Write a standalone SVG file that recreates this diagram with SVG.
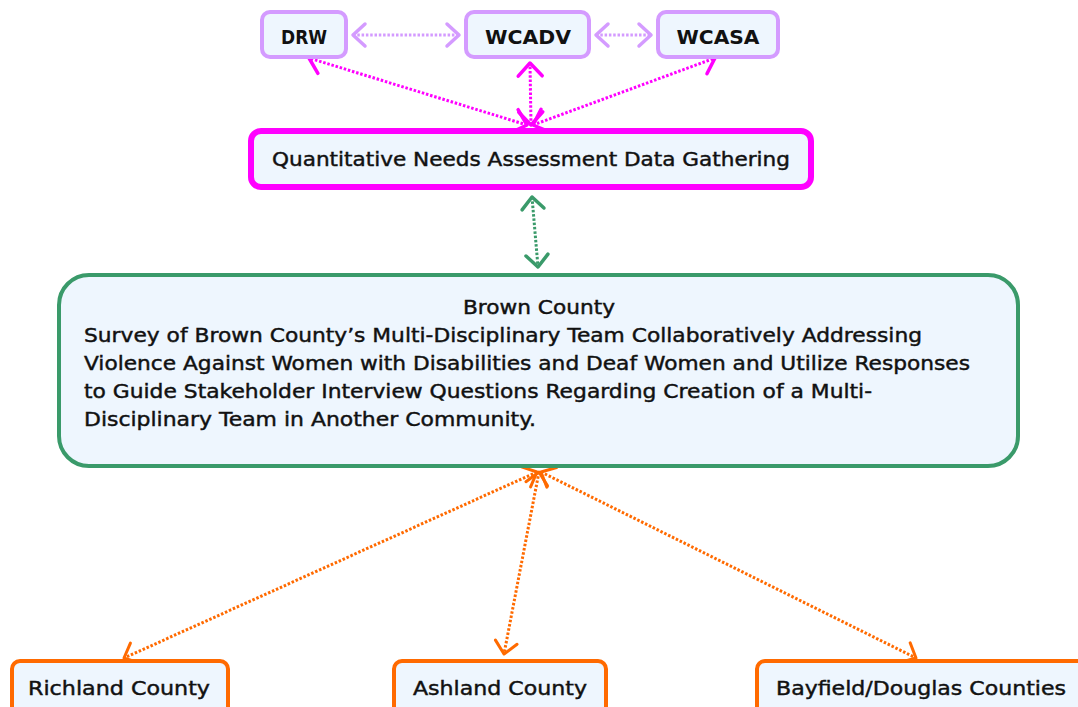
<svg xmlns="http://www.w3.org/2000/svg" width="1078" height="707" viewBox="0 0 1078 707">
<style>
text{font-family:"DejaVu Sans","Liberation Sans",sans-serif;font-size:20px;fill:#111;stroke:#111;stroke-width:0.45}
.t{font-weight:bold;stroke-width:0}
.box{fill:#eef6fe}
.lav{stroke:#d49bff;stroke-width:4}
.mag{stroke:#ff00ff;stroke-width:6}
.grn{stroke:#3a9a6a;stroke-width:4}
.org{stroke:#ff6a00;stroke-width:4}
.c{fill:none;stroke-width:3;stroke-dasharray:2.5 1.8}
marker{overflow:visible}
</style>
<defs>
<marker id="mL" viewBox="0 0 20 24" refX="17" refY="12" markerWidth="20" markerHeight="24" markerUnits="userSpaceOnUse" orient="auto-start-reverse"><path d="M5 1 L17 12 L5 23" fill="none" stroke="#d49bff" stroke-width="3.5" stroke-linecap="round" stroke-linejoin="round"/></marker>
<marker id="mM" viewBox="0 0 20 24" refX="17" refY="12" markerWidth="20" markerHeight="24" markerUnits="userSpaceOnUse" orient="auto-start-reverse"><path d="M4 0 L17 12 L4 24" fill="none" stroke="#ff00ff" stroke-width="3.5" stroke-linecap="round" stroke-linejoin="round"/></marker>
<marker id="mG" viewBox="0 0 20 24" refX="17" refY="12" markerWidth="20" markerHeight="24" markerUnits="userSpaceOnUse" orient="auto-start-reverse"><path d="M5 1 L17 12 L5 23" fill="none" stroke="#3a9a6a" stroke-width="3.5" stroke-linecap="round" stroke-linejoin="round"/></marker>
<marker id="mO" viewBox="0 0 20 24" refX="17" refY="12" markerWidth="20" markerHeight="24" markerUnits="userSpaceOnUse" orient="auto-start-reverse"><path d="M5 1 L17 12 L5 23" fill="none" stroke="#ff6a00" stroke-width="3" stroke-linecap="round" stroke-linejoin="round"/></marker>
</defs>
<rect width="1078" height="707" fill="#ffffff"/>
<g id="connectors">
<line class="c" x1="353" y1="35" x2="459" y2="35" stroke="#d49bff" marker-start="url(#mL)" marker-end="url(#mL)"/>
<line class="c" x1="596" y1="35" x2="651" y2="35" stroke="#d49bff" marker-start="url(#mL)" marker-end="url(#mL)"/>
<line class="c" x1="527" y1="125" x2="309" y2="58" stroke="#ff00ff" marker-start="url(#mM)" marker-end="url(#mM)"/>
<line class="c" x1="531" y1="125" x2="530" y2="63" stroke="#ff00ff" marker-start="url(#mM)" marker-end="url(#mM)"/>
<line class="c" x1="533" y1="125" x2="715" y2="58" stroke="#ff00ff" marker-start="url(#mM)" marker-end="url(#mM)"/>
<line class="c" x1="532" y1="197" x2="538" y2="267" stroke="#3a9a6a" marker-start="url(#mG)" marker-end="url(#mG)"/>
<line class="c" x1="537" y1="472" x2="124" y2="658" stroke="#ff6a00" marker-start="url(#mO)" marker-end="url(#mO)"/>
<line class="c" x1="539" y1="472" x2="504" y2="654" stroke="#ff6a00" marker-start="url(#mO)" marker-end="url(#mO)"/>
<line class="c" x1="541" y1="472" x2="916" y2="658" stroke="#ff6a00" marker-start="url(#mO)" marker-end="url(#mO)"/>
</g>
<g id="drw"><rect class="box lav" x="262" y="12" width="84" height="45" rx="8"/><text class="t" x="304" y="44" text-anchor="middle" textLength="46" lengthAdjust="spacingAndGlyphs">DRW</text></g>
<g id="wcadv"><rect class="box lav" x="466" y="12" width="123" height="45" rx="8"/><text class="t" x="528" y="44" text-anchor="middle" textLength="86" lengthAdjust="spacingAndGlyphs">WCADV</text></g>
<g id="wcasa"><rect class="box lav" x="658" y="12" width="120" height="45" rx="8"/><text class="t" x="718" y="44" text-anchor="middle" textLength="83" lengthAdjust="spacingAndGlyphs">WCASA</text></g>
<g id="quant"><rect class="box mag" x="251" y="131" width="560" height="56" rx="10"/><text x="272" y="166" textLength="518" lengthAdjust="spacingAndGlyphs">Quantitative Needs Assessment Data Gathering</text></g>
<g id="brown"><rect class="box grn" x="59" y="275" width="959" height="191" rx="30"/>
<text x="463" y="314" textLength="152" lengthAdjust="spacingAndGlyphs">Brown County</text>
<text x="84" y="342" textLength="838" lengthAdjust="spacingAndGlyphs">Survey of Brown County’s Multi-Disciplinary Team Collaboratively Addressing</text>
<text x="84" y="370" textLength="886" lengthAdjust="spacingAndGlyphs">Violence Against Women with Disabilities and Deaf Women and Utilize Responses</text>
<text x="84" y="398" textLength="788" lengthAdjust="spacingAndGlyphs">to Guide Stakeholder Interview Questions Regarding Creation of a Multi-</text>
<text x="84" y="426" textLength="452" lengthAdjust="spacingAndGlyphs">Disciplinary Team in Another Community.</text>
</g>
<g id="richland"><rect class="box org" x="12" y="661" width="216" height="60" rx="8"/><text x="28" y="695" textLength="182" lengthAdjust="spacingAndGlyphs">Richland County</text></g>
<g id="ashland"><rect class="box org" x="394" y="661" width="212" height="60" rx="8"/><text x="413" y="695" textLength="174" lengthAdjust="spacingAndGlyphs">Ashland County</text></g>
<g id="bayfield"><rect class="box org" x="757" y="661" width="330" height="60" rx="8"/><text x="776" y="695" textLength="290" lengthAdjust="spacingAndGlyphs">Bayfield/Douglas Counties</text></g>
</svg>
